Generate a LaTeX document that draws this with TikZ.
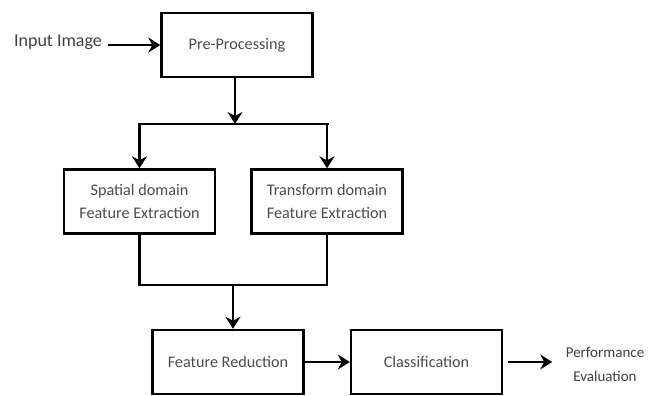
\documentclass[tikz,border=0pt]{standalone}
\usepackage{fontspec}
\setmainfont{Carlito}
\usetikzlibrary{arrows.meta}
\begin{document}
\begin{tikzpicture}[x=1pt,y=-1pt,
  blk/.style={draw=black,line width=2.4pt,minimum width=151pt,minimum height=64pt,inner sep=0pt,align=center,font=\fontsize{16.2}{23}\selectfont,text=black!70},
  lbl/.style={inner sep=0pt,align=center,text=black!75},
  conn/.style={line width=2.6pt,draw=black},
  arr/.style={conn,-{Stealth[length=12pt,width=15pt,inset=4pt]}}]
\useasboundingbox (0,0) rectangle (654,396);
\node[blk] (pre) at (237,45) {Pre-Processing};
\node[blk] (spa) at (139.5,201.5) {Spatial domain\\Feature Extraction};
\node[blk] (tra) at (327,201.5) {Transform domain\\Feature Extraction};
\node[blk] (red) at (228,362) {Feature Reduction};
\node[blk] (cls) at (426.5,362) {Classification};
\node[lbl,font=\fontsize{18}{22}\selectfont] (inp) at (58,42) {Input Image};
\node[lbl,font=\fontsize{15}{24}\selectfont] (perf) at (605,364) {Performance\\Evaluation};
\coordinate (split) at (235,124);
\coordinate (merge) at (233,285);
\draw[arr] (inp.east) ++(6,3) coordinate (ia) -- (ia -| pre.west);
\draw[arr] (pre.south -| split) -- (split);
\draw[conn] (split) ++(-96,0) coordinate (sl) -- ++(190,0);
\draw[arr] (split) -| (spa.north);
\draw[arr] (split) -| (tra.north);
\draw[conn] (spa.south) |- (merge);
\draw[conn] (tra.south) |- (merge);
\draw[arr] (merge) -- (merge |- red.north);
\draw[arr] (red.east) -- (cls.west);
\draw[arr] (cls.east) ++(5,0) coordinate (ca) -- ++(44,0);
\end{tikzpicture}
\end{document}
